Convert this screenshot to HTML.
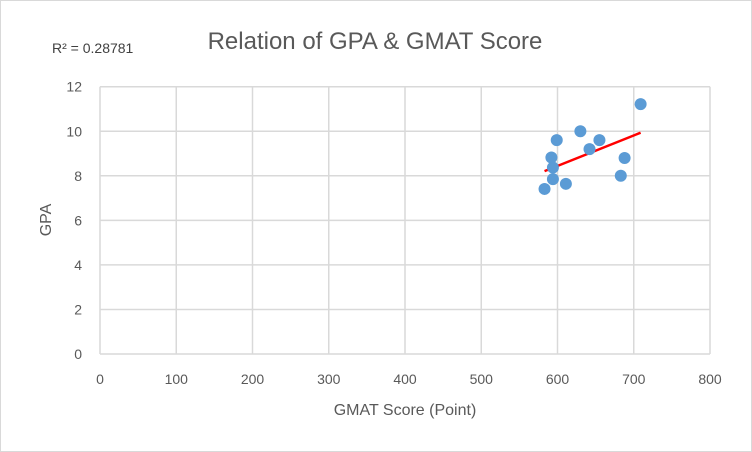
<!DOCTYPE html>
<html><head><meta charset="utf-8"><style>
html,body{margin:0;padding:0;background:#fff;}
body{width:752px;height:452px;overflow:hidden;font-family:"Liberation Sans",sans-serif;}
#frame{position:absolute;left:0;top:0;width:750px;height:450px;border:1px solid #d9d9d9;}
</style></head><body>
<div id="frame"></div>
<svg id="chart" width="752" height="452" style="position:absolute;left:0;top:0">
<text x="375" y="49" text-anchor="middle" font-size="24" fill="#595959">Relation of GPA &amp; GMAT Score</text>
<text x="52" y="53" font-size="14" fill="#404040">R² = 0.28781</text>
<text x="405" y="415" text-anchor="middle" font-size="16" fill="#595959">GMAT Score (Point)</text>
<text transform="translate(51,220) rotate(-90)" text-anchor="middle" font-size="16" fill="#595959">GPA</text>
<g id="grid"></g><g id="ticks"></g><g id="trend"></g><g id="pts"></g>
</svg>
<script>
const gmatScores=[709,630,599,655,642,592,688,594,594,683,611,583];
const gpaValues=[11.22,10.0,9.6,9.6,9.2,8.82,8.8,8.37,7.85,8.0,7.64,7.41];
const xTicks=[0,100,200,300,400,500,600,700,800];
const yTicks=[0,2,4,6,8,10,12];
const X0=100,X1=710,Y0=354,Y1=86.7;
const xs=v=>X0+(v-0)/800*(X1-X0);
const ys=v=>Y0-(v-0)/12*(Y0-Y1);
const NS="http://www.w3.org/2000/svg";
const grid=document.getElementById('grid'),ticks=document.getElementById('ticks');
function mk(tag,attrs,parent){const e=document.createElementNS(NS,tag);for(const k in attrs)e.setAttribute(k,attrs[k]);parent.appendChild(e);return e;}
xTicks.forEach(t=>{
  const l=mk('line',{x1:xs(t),x2:xs(t),y1:Y1,y2:Y0,stroke:'#d9d9d9','stroke-width':1.5},grid);
  
  
  const tx=mk('text',{x:xs(t),y:Y0+30,'text-anchor':'middle','font-size':14,fill:'#595959'},ticks);
  tx.textContent=t;
  
  
});
yTicks.forEach(t=>{
  const l=mk('line',{x1:X0,x2:X1,y1:ys(t),y2:ys(t),stroke:'#d9d9d9','stroke-width':1.5},grid);
  
  
  const tx=mk('text',{x:X0-18,y:ys(t)+5,'text-anchor':'end','font-size':14,fill:'#595959'},ticks);
  tx.textContent=t;
  
  
});
// linear regression trendline
const n=gmatScores.length;
const mx=gmatScores.reduce((a,b)=>a+b,0)/n,my=gpaValues.reduce((a,b)=>a+b,0)/n;
let sxy=0,sxx=0;for(let i=0;i<n;i++){sxy+=(gmatScores[i]-mx)*(gpaValues[i]-my);sxx+=(gmatScores[i]-mx)**2;}
const slope=sxy/sxx,icpt=my-slope*mx;
const xmin=Math.min(...gmatScores),xmax=Math.max(...gmatScores);
const tl=mk('line',{x1:xs(xmin),y1:ys(icpt+slope*xmin),x2:xs(xmax),y2:ys(icpt+slope*xmax),stroke:'#ff0000','stroke-width':2.5},document.getElementById('trend'));


const pts=document.getElementById('pts');
gmatScores.forEach((g,i)=>{
  const c=mk('circle',{cx:xs(g),cy:ys(gpaValues[i]),r:6,fill:'#5b9bd5'},pts);
  
  
});
</script>
</body></html>
